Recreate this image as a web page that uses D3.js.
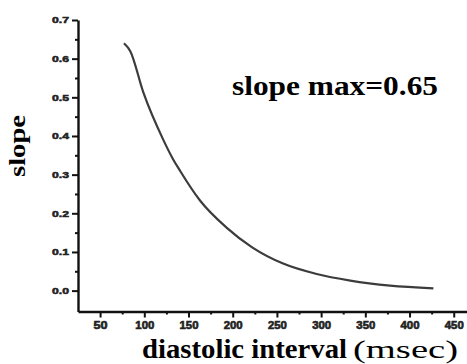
<!DOCTYPE html>
<html>
<head>
<meta charset="utf-8">
<script src="https://cdn.jsdelivr.net/npm/d3@7"></script>
<style>
  body { margin: 0; background: #fff; }
  svg { display: block; }
</style>
</head>
<body>
<svg id="chart" viewBox="0 0 467 364" width="467" height="364"></svg>
<script>
// diastolic interval (msec) and restitution slope
const diastolicInterval = [77, 84, 99, 121.5, 133, 140.4, 163, 193, 222, 257, 295, 333, 378, 427];
const slopeValues = [0.640, 0.620, 0.512, 0.390, 0.338, 0.310, 0.233, 0.163, 0.112, 0.070, 0.043, 0.026, 0.013, 0.006];

const xTicks = [50, 100, 150, 200, 250, 300, 350, 400, 450];
const xMinorTicks = [75, 125, 175, 225, 275, 325, 375, 425];
const yTicks = [0.0, 0.1, 0.2, 0.3, 0.4, 0.5, 0.6, 0.7];
const yMinorTicks = [0.05, 0.15, 0.25, 0.35, 0.45, 0.55, 0.65];

const svg = d3.select("#chart");

const x = d3.scaleLinear().domain([25, 465]).range([78, 467]);
const y = d3.scaleLinear().domain([-0.054, 0.7]).range([311.5, 20]);

const ink = "#111";

// minor ticks first
svg.append("g")
    .attr("transform", "translate(78,0)")
    .call(d3.axisLeft(y).tickValues(yMinorTicks).tickSize(3).tickFormat(""))
    .call(g => g.select(".domain").remove())
    .selectAll("line").attr("stroke", ink).attr("stroke-width", 2);

svg.append("g")
    .attr("transform", "translate(0,311.5)")
    .call(d3.axisBottom(x).tickValues(xMinorTicks).tickSize(3).tickFormat(""))
    .call(g => g.select(".domain").remove())
    .selectAll("line").attr("stroke", ink).attr("stroke-width", 2);

// major y axis
const yAxis = svg.append("g")
    .attr("transform", "translate(78,0)")
    .call(d3.axisLeft(y).tickValues(yTicks).tickSize(6).tickSizeOuter(0).tickPadding(3)
        .tickFormat(d3.format(".1f")));
yAxis.select(".domain").attr("stroke", ink).attr("stroke-width", 2.4);
yAxis.selectAll("line").attr("stroke", ink).attr("stroke-width", 2);
yAxis.selectAll("text")
    .attr("fill", "#222")
    .attr("stroke", "#222")
    .attr("stroke-width", 0.5)
    .style("font-family", "'Liberation Sans', Arial, sans-serif")
    .style("font-weight", "bold")
    .style("font-size", "8.5px")
    .attr("textLength", 17)
    .attr("lengthAdjust", "spacingAndGlyphs");

// major x axis
const xAxis = svg.append("g")
    .attr("transform", "translate(0,311.5)")
    .call(d3.axisBottom(x).tickValues(xTicks).tickSize(6).tickSizeOuter(0).tickPadding(4));
xAxis.select(".domain").attr("stroke", ink).attr("stroke-width", 2.4);
xAxis.selectAll("line").attr("stroke", ink).attr("stroke-width", 2);
xAxis.selectAll("text")
    .attr("fill", "#222")
    .attr("stroke", "#222")
    .attr("stroke-width", 0.6)
    .style("font-family", "'Liberation Sans', Arial, sans-serif")
    .style("font-weight", "bold")
    .style("font-size", "10.5px")
    .attr("textLength", d => d < 100 ? 14 : 19)
    .attr("lengthAdjust", "spacingAndGlyphs");

// restitution curve
const line = d3.line()
    .x((d, i) => x(diastolicInterval[i]))
    .y(d => y(d))
    .curve(d3.curveMonotoneX);

svg.append("path")
    .datum(slopeValues)
    .attr("d", line)
    .attr("fill", "none")
    .attr("stroke", "#3c3c3c")
    .attr("stroke-width", 2.2);

// labels
const serif = "'Liberation Serif', 'Times New Roman', serif";

svg.append("text")
    .attr("x", 232)
    .attr("y", 95)
    .style("font-family", serif)
    .style("font-weight", "bold")
    .style("font-size", "28px")
    .attr("textLength", 206)
    .attr("lengthAdjust", "spacingAndGlyphs")
    .text("slope max=0.65");

svg.append("text")
    .attr("transform", "translate(25,146) rotate(-90)")
    .attr("text-anchor", "middle")
    .style("font-family", serif)
    .style("font-weight", "bold")
    .style("font-size", "24px")
    .attr("textLength", 62)
    .attr("lengthAdjust", "spacingAndGlyphs")
    .text("slope");

svg.append("text")
    .attr("x", 142)
    .attr("y", 358)
    .style("font-family", serif)
    .style("font-weight", "bold")
    .style("font-size", "28px")
    .attr("textLength", 205)
    .attr("lengthAdjust", "spacingAndGlyphs")
    .text("diastolic interval");

svg.append("text")
    .attr("x", 353)
    .attr("y", 358)
    .style("font-family", serif)
    .style("font-size", "26px")
    .attr("textLength", 105)
    .attr("lengthAdjust", "spacingAndGlyphs")
    .text("(msec)");
</script>
</body>
</html>
